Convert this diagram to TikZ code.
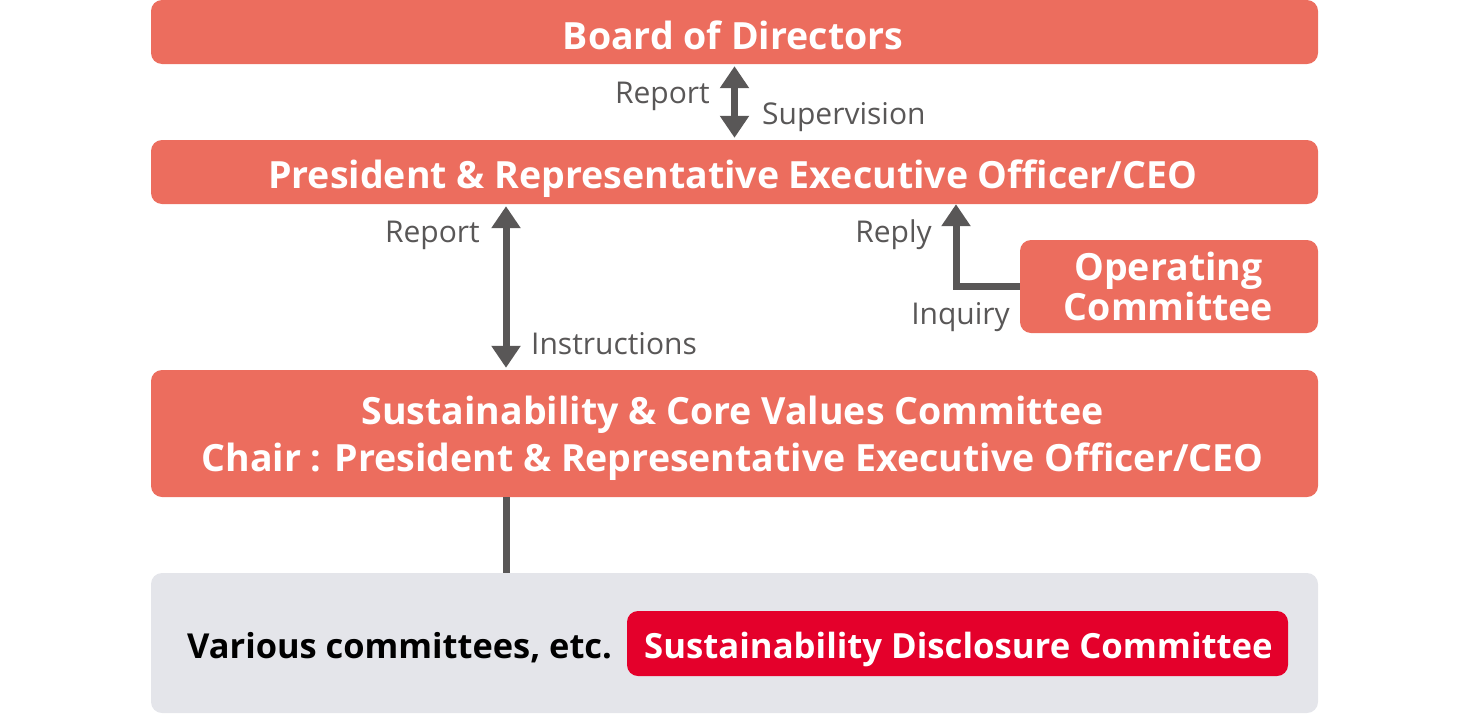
\documentclass[tikz,border=0pt]{standalone}
\usepackage{fontspec}
\setmainfont{Open Sans}
\usetikzlibrary{arrows.meta,positioning}
\definecolor{salmon}{HTML}{EC6D5E}
\definecolor{arrgray}{HTML}{595757}
\definecolor{pale}{HTML}{E4E5EA}
\definecolor{redbox}{HTML}{E4002B}
\begin{document}
\begin{tikzpicture}[x=1pt,y=-1pt,>={Triangle[length=22pt,width=28pt]},line join=miter]
	\tikzset{
		box/.style={fill=salmon,rounded corners=11pt,inner sep=0pt},
		btxt/.style={text=white,inner sep=0pt,anchor=base,font=\bfseries\fontsize{37.5}{45}\selectfont},
		lab/.style={text=arrgray,inner sep=0pt,font=\fontsize{30}{36}\selectfont},
		conn/.style={draw=arrgray,line width=7pt},
	}
	\useasboundingbox (0,0) rectangle (1470,715);
	\def\xa{506} % x of the left arrow
	\def\xb{956} % x of the reply arrow
	\coordinate (ra) at (\xa,0);
	\coordinate (rb) at (\xb,0);
	% boxes
	\node[box,minimum width=1167pt,minimum height=64pt] (board) at (734.5,32) {};
	\node[box,minimum width=1167pt,minimum height=64pt] (ceo) at (734.5,172) {};
	\node[box,minimum width=298pt,minimum height=93pt] (ops) at (1169,286.5) {};
	\node[box,minimum width=1167pt,minimum height=127pt] (scv) at (734.5,433.5) {};
	\node[box,fill=pale,minimum width=1167pt,minimum height=140pt] (grp) at (734.5,643) {};
	\node[box,fill=redbox,minimum width=661pt,minimum height=65pt] (sdc) at (957.5,643.5) {};
	% box texts
	\node[btxt] (boardt) at (733,49) {Board of Directors};
	\node[btxt] (ceot) at (732.5,188) {President \& Representative Executive Officer/CEO};
	\node[btxt] (opst1) at (1168.5,280.5) {Operating};
	\node[btxt] (opst2) at (1168.5,320) {Committee};
	\node[btxt] (scvt1) at (732.5,424.5) {Sustainability \& Core Values Committee};
	\node[btxt] (scvt2) at (732.5,471.5) {Chair : President \& Representative Executive Officer/CEO};
	\node[btxt,font=\bfseries\fontsize{34.7}{40}\selectfont] (sdct) at (958.5,658) {Sustainability Disclosure Committee};
	\node[btxt,text=black,anchor=base west,font=\bfseries\fontsize{34.4}{40}\selectfont] (var) at (187,658) {Various committees, etc.};
	% connectors
	\draw[conn,<->,shorten <=2pt,shorten >=2pt] (board.south) -- (ceo.north);
	\draw[conn,<->,shorten <=2pt,shorten >=2pt] (ceo.south -| ra) -- (scv.north -| ra);
	\draw[conn,->] (ops.west) -| (ceo.south -| rb);
	\draw[conn] (scv.south -| ra) -- (grp.north -| ra);
	% labels
	\node[lab,anchor=base east] (l1) at (710,103) {Report};
	\node[lab,anchor=base west] (l2) at (762,124.5) {Supervision};
	\node[lab,anchor=base east] (l3) at (480,242) {Report};
	\node[lab,anchor=base west] (l4) at (531,354) {Instructions};
	\node[lab,anchor=base east] (l5) at (932,242) {Reply};
	\node[lab,anchor=base east] (l6) at (1010,324) {Inquiry};
\end{tikzpicture}
\end{document}
